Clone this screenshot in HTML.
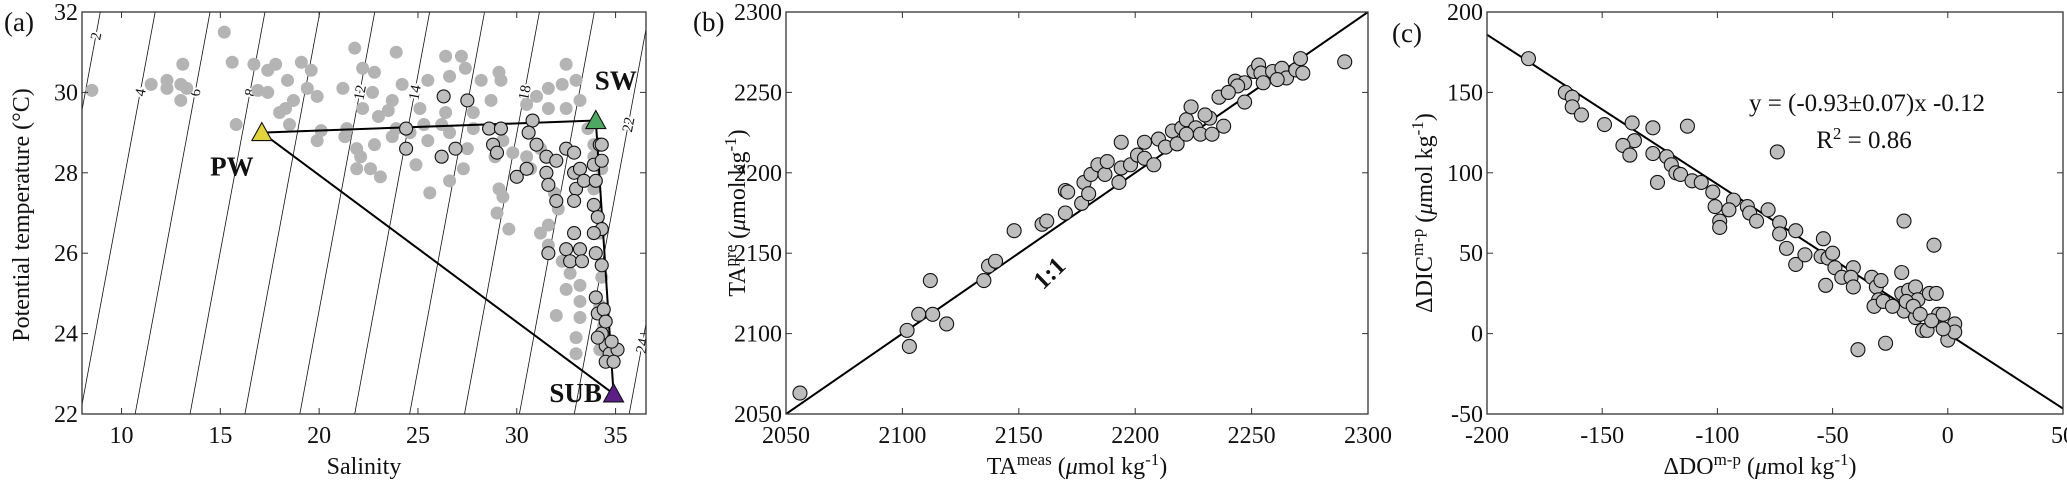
<!DOCTYPE html>
<html><head><meta charset="utf-8"><style>
html,body{margin:0;padding:0;background:#fff;}
svg, svg text{font-family:"Liberation Serif","DejaVu Serif","Times New Roman",serif;}
</style></head><body>
<svg id="chart" width="2067" height="492" viewBox="0 0 2067 492" xmlns="http://www.w3.org/2000/svg" font-family="Liberation Serif, DejaVu Serif, serif">
<defs>
<clipPath id="clipA"><rect x="82" y="12" width="564" height="402"/></clipPath>
<clipPath id="clipB"><rect x="786" y="12" width="582" height="402"/></clipPath>
<clipPath id="clipC"><rect x="1487" y="12" width="576" height="402"/></clipPath>
</defs>
<g id="ga"></g>
<g id="gb"></g>
<g id="gc"></g>
</svg>
<script>
// ---------- Panel A data ----------
const aGreyS=[8.5,11.5,12.3,12.3,13.1,13.0,13.3,13.0,15.2,15.6,15.8,16.7,17.4,17.8,16.9,17.4,18.4,19.1,19.6,19.4,19.9,18.7,18.3,18,18.5,20.1,19.9,21.2,21.8,22.2,22.8,22.7,22.2,23.0,21.4,21.3,21.9,22.1,21.9,22.6,23.1,22.8,23.9,24.2,23.7,23.5,23.9,23.7,24.6,25.1,25.3,25.5,25.6,24.9,25.5,26.4,27.2,27.4,26.6,26.4,26.2,26.6,26.6,27.3,27.5,27.8,27.8,28.2,29.1,29.2,28.7,29.3,29.1,29.3,29.0,29.6,28.9,29.8,30.5,31.0,31.6,32.5,32.3,33.0,31.6,32.5,33.2,31.2,30.5,30.7,31.9,32.1,31.6,31.2,31.6,32.3,32.7,32.5,33.2,33.2,32.0,33.2,33.0,33.0,33.9,34.3,34.2,34.3,34.2,34.4,34.2,33.9,33.9,33.6];
const aGreyT=[30.05,30.2,30.3,30.1,30.7,30.2,30.1,29.8,31.5,30.75,29.2,30.7,30.55,30.7,30.05,30,30.3,30.75,30.55,30.1,29.9,29.8,29.6,29.5,29.2,29.05,28.8,30.1,31.1,30.6,30.5,30,29.6,29.4,29.1,28.9,28.6,28.4,28.1,28.1,27.9,28.7,31.0,30.2,29.8,29.55,29.1,28.9,29,29.6,29.2,30.3,27.5,28.2,28.8,30.9,30.9,30.6,30.4,29.5,29.2,29,27.8,28.1,28.6,29.1,29.5,30.3,30.5,30.3,29.8,28.8,27.6,27.4,27,26.6,28.4,28.5,29.7,29.9,30.1,30.7,30.2,30.3,29.6,29.6,29.8,28.6,28.4,28.1,27.5,27.1,26.7,26.5,26.2,25.8,25.5,25.1,25.2,24.8,24.45,24.4,23.9,23.5,27.6,28.1,26.5,25.4,24.7,24.2,23.6,28.7,28.4,29.1];
const aEdgeS=[26.3,27.5,24.4,24.4,26.2,26.9,28.6,29.2,28.8,29.0,30.0,30.5,30.8,30.6,31.0,31.5,32.0,31.5,31.6,32.0,32.5,32.9,32.9,33.2,33.0,33.4,33.9,34.2,34.3,34.3,32.9,34.0,33.9,34.1,34.3,33.9,32.9,33.2,32.5,32.7,33.3,34.0,34.3,31.6,34.0,34.1,34.4,34.3,34.5,34.7,35.1,34.5,34.1,34.8,34.9,34.5];
const aEdgeT=[29.9,29.8,29.1,28.6,28.4,28.6,29.1,29.1,28.7,28.5,27.9,28.1,29.3,29,28.7,28.4,28.3,28.0,27.7,27.3,28.6,28.5,28.0,28.1,27.6,27.8,28.2,28.7,28.3,28.7,27.3,27.8,27.2,26.9,26.6,26.5,26.5,26.1,26.1,25.8,25.8,26.0,25.7,26.0,24.9,24.5,24.6,24.0,23.7,23.5,23.6,23.3,23.9,23.8,23.3,24.3];
const endNames=["PW","SW","SUB"];
const endS=[17.1,34.0,34.9];
const endT=[29.0,29.3,22.5];
const endColors=["#e2d43c","#4ea862","#5b1f86"];
const isoLevels=[0,2,4,6,8,10,12,14,16,18,20,22,24,26];
const isoLabelLevels=[2,4,6,8,12,14,18,22,24];
const isoLabelT=[31.4,30.0,30.0,30.0,30.0,30.0,30.0,29.2,23.7];
const aXTicks=[10,15,20,25,30,35];
const aYTicks=[22,24,26,28,30,32];

// ---------- Panel B data ----------
const bMeas=[2056,2102,2103,2107,2113,2112,2119,2135,2137,2140,2148,2160,2162,2170,2170,2171,2177,2178,2180,2181,2184,2187,2188,2193,2194,2194,2198,2201,2204,2204,2208,2210,2213,2216,2218,2220,2222,2224,2226,2228,2232,2233,2236,2238,2243,2247,2247,2251,2253,2254,2255,2259,2263,2265,2269,2271,2272,2290,2230,2222,2244,2261,2240];
const bPre=[2063,2102,2092,2112,2112,2133,2106,2133,2142,2145,2164,2168,2170,2175,2189,2188,2181,2194,2187,2199,2205,2199,2207,2194,2203,2219,2205,2211,2209,2219,2205,2221,2216,2226,2218,2228,2233,2241,2228,2224,2234,2224,2247,2229,2257,2244,2256,2263,2267,2262,2256,2263,2265,2259,2264,2271,2262,2269,2236,2224,2254,2258,2250];
const bTicks=[2050,2100,2150,2200,2250,2300];

// ---------- Panel C data ----------
const cDO=[-182,-166,-163,-163,-159,-149,-137,-136,-141,-138,-128,-128,-126,-113,-122,-120,-118,-116,-111,-107,-102,-101,-99,-99,-93,-95,-87,-86,-83,-78,-74,-73,-73,-70,-66,-66,-62,-54,-55,-52,-53,-50,-49,-46,-41,-42,-41,-39,-33,-31,-30,-32,-29,-28,-27,-20,-19,-20,-19,-17,-14,-13,-14,-11,-9,-8,-5,-6,-4,-7,-2,0,3,3,-2,-18,-15,-24,-12];
const cDIC=[171,150,147,141,136,130,131,120,117,111,128,112,94,129,110,105,100,99,95,94,88,79,70,66,83,77,79,75,70,77,113,69,62,53,64,43,49,59,48,47,30,50,41,35,41,35,29,-10,35,29,21,17,33,20,-6,38,70,25,14,27,29,21,10,2,2,25,25,55,12,8,12,-4,6,1,3,20,17,17,12];
const cSlope=-0.93, cIntercept=-0.12;
const cXTicks=[-200,-150,-100,-50,0,50];
const cYTicks=[-50,0,50,100,150,200];

const NS="http://www.w3.org/2000/svg";
const FF="Liberation Serif, DejaVu Serif, Times New Roman, serif";
function mk(parent,tag,attrs,text){const e=document.createElementNS(NS,tag);for(const k in attrs)e.setAttribute(k,attrs[k]);if(tag==='text')e.setAttribute('font-family',FF);if(text!==undefined)e.textContent=text;parent.appendChild(e);return e;}
function scale(d0,d1,r0,r1){return v=>r0+(v-d0)/(d1-d0)*(r1-r0);}

function axesFrame(g,L,T,R,B,xs,ys,xt,yt){
  const fr=mk(g,'rect',{x:L,y:T,width:R-L,height:B-T,fill:'none',stroke:'#333',"stroke-width":1.3});
  
  
  xt.forEach(v=>{const x=xs(v);
    mk(g,'line',{x1:x,x2:x,y1:B,y2:B-6,stroke:'#333'});
    mk(g,'line',{x1:x,x2:x,y1:T,y2:T+6,stroke:'#333'});
    const t=mk(g,'text',{x:x,y:B+29,"text-anchor":'middle',"font-size":24,fill:'#111'},String(v));
    
    
  });
  yt.forEach(v=>{const y=ys(v);
    mk(g,'line',{x1:L,x2:L+6,y1:y,y2:y,stroke:'#333'});
    mk(g,'line',{x1:R,x2:R-6,y1:y,y2:y,stroke:'#333'});
    const t=mk(g,'text',{x:L-4,y:y+8,"text-anchor":'end',"font-size":24,fill:'#111'},String(v));
    
    
  });
}

// ===== Panel A =====
(function(){
  const g=document.getElementById('ga');
  const L=82,R=646,T=12,B=414;
  const xs=scale(8,36.54,L,R), ys=scale(22,32,B,T);
  const clip=mk(g,'g',{"clip-path":'url(#clipA)'});
  const isoS=(sig,t)=>(sig+0.273*t-4.31)/0.72;
  isoLevels.forEach(s=>{
    const l=mk(clip,'line',{x1:xs(isoS(s,21)),y1:ys(21),x2:xs(isoS(s,33)),y2:ys(33),stroke:'#111',"stroke-width":0.8});
    
    
  });
  isoLabelLevels.forEach((s,i)=>{
    const x=xs(isoS(s,isoLabelT[i])), y=ys(isoLabelT[i]);
    const t=mk(clip,'text',{x:x,y:y+5,"text-anchor":'middle',"font-size":15,fill:'#111',stroke:'#fff',"stroke-width":4,"paint-order":'stroke',transform:`rotate(-79 ${x} ${y})`},String(s));
    
    
  });
  aGreyS.forEach((s,i)=>{
    const c=mk(clip,'circle',{cx:xs(s),cy:ys(aGreyT[i]),r:6.5,fill:'#b4b4b4'});
    
    
  });
  const tri=[[0,1],[1,2],[0,2]];
  tri.forEach(p=>{
    const l=mk(clip,'line',{x1:xs(endS[p[0]]),y1:ys(endT[p[0]]),x2:xs(endS[p[1]]),y2:ys(endT[p[1]]),stroke:'#000',"stroke-width":2});
    
    
  });
  aEdgeS.forEach((s,i)=>{
    const c=mk(clip,'circle',{cx:xs(s),cy:ys(aEdgeT[i]),r:6.5,fill:'#bdbdbd',stroke:'#111',"stroke-width":1.1});
    
    
  });
  const labOff=[[-30,34],[20,-40],[-38,-1]];
  endS.forEach((s,i)=>{
    const x=xs(s), y=ys(endT[i]);
    const p=mk(g,'polygon',{points:`${x-10},${y+8} ${x+10},${y+8} ${x},${y-10}`,fill:endColors[i],stroke:'#111',"stroke-width":1.1});
    
    
    const t=mk(g,'text',{x:x+labOff[i][0],y:y+labOff[i][1]+9,"text-anchor":'middle',"font-size":27,"font-weight":'bold',fill:'#111'},endNames[i]);
    
    
  });
  axesFrame(g,L,T,R,B,xs,ys,aXTicks,aYTicks);
  let t=mk(g,'text',{x:4,y:31,"font-size":27,fill:'#111'},'(a)');
  
  t=mk(g,'text',{x:364,y:474,"text-anchor":'middle',"font-size":24,fill:'#111'},'Salinity');
  
  t=mk(g,'text',{x:0,y:0,"text-anchor":'middle',"font-size":24,fill:'#111',transform:'translate(29,215) rotate(-90)'},'Potential temperature (°C)');
  
})();

// ===== Panel B =====
(function(){
  const g=document.getElementById('gb');
  const L=786,R=1368,T=12,B=414;
  const xs=scale(2050,2300,L,R), ys=scale(2050,2300,B,T);
  const clip=mk(g,'g',{"clip-path":'url(#clipB)'});
  const l=mk(clip,'line',{x1:xs(2050),y1:ys(2050),x2:xs(2300),y2:ys(2300),stroke:'#000',"stroke-width":2});
  
  bMeas.forEach((m,i)=>{
    const c=mk(clip,'circle',{cx:xs(m),cy:ys(bPre[i]),r:7,fill:'#bdbdbd',stroke:'#111',"stroke-width":1.1});
    
    
  });
  let t=mk(g,'text',{x:0,y:0,"text-anchor":'middle',"font-size":25,"font-weight":'bold',fill:'#111',transform:'translate(1055,279) rotate(-44)'},'1:1');
  
  axesFrame(g,L,T,R,B,xs,ys,bTicks,bTicks);
  t=mk(g,'text',{x:693,y:31,"font-size":27,fill:'#111'},'(b)');
  
  t=mk(g,'text',{x:1077,y:474,"text-anchor":'middle',"font-size":24,fill:'#111'});
  t.innerHTML='TA<tspan dy="-9" font-size="17">meas</tspan><tspan dy="9"> (</tspan><tspan font-style="italic">μ</tspan>mol kg<tspan dy="-9" font-size="17">-1</tspan><tspan dy="9">)</tspan>';
  
  t=mk(g,'text',{x:0,y:0,"text-anchor":'middle',"font-size":24,fill:'#111',transform:'translate(745,213) rotate(-90)'});
  t.innerHTML='TA<tspan dy="-9" font-size="17">pre</tspan><tspan dy="9"> (</tspan><tspan font-style="italic">μ</tspan>mol kg<tspan dy="-9" font-size="17">-1</tspan><tspan dy="9">)</tspan>';
  
})();

// ===== Panel C =====
(function(){
  const g=document.getElementById('gc');
  const L=1487,R=2063,T=12,B=414;
  const xs=scale(-200,50,L,R), ys=scale(-50,200,B,T);
  const clip=mk(g,'g',{"clip-path":'url(#clipC)'});
  const l=mk(clip,'line',{x1:xs(-200),y1:ys(cSlope*-200+cIntercept),x2:xs(50),y2:ys(cSlope*50+cIntercept),stroke:'#000',"stroke-width":2});
  
  cDO.forEach((d,i)=>{
    const c=mk(clip,'circle',{cx:xs(d),cy:ys(cDIC[i]),r:7,fill:'#bdbdbd',stroke:'#111',"stroke-width":1.1});
    
    
  });
  let t=mk(g,'text',{x:1867,y:111,"text-anchor":'middle',"font-size":25,fill:'#111'},'y = (-0.93±0.07)x -0.12');
  
  t=mk(g,'text',{x:1864,y:148,"text-anchor":'middle',"font-size":25,fill:'#111'});
  t.innerHTML='R<tspan dy="-9" font-size="17">2</tspan><tspan dy="9"> = 0.86</tspan>';
  
  axesFrame(g,L,T,R,B,xs,ys,cXTicks,cYTicks);
  t=mk(g,'text',{x:1392,y:42,"font-size":27,fill:'#111'},'(c)');
  
  t=mk(g,'text',{x:1760,y:474,"text-anchor":'middle',"font-size":24,fill:'#111'});
  t.innerHTML='ΔDO<tspan dy="-9" font-size="17">m-p</tspan><tspan dy="9"> (</tspan><tspan font-style="italic">μ</tspan>mol kg<tspan dy="-9" font-size="17">-1</tspan><tspan dy="9">)</tspan>';
  
  t=mk(g,'text',{x:0,y:0,"text-anchor":'middle',"font-size":24,fill:'#111',transform:'translate(1432,213) rotate(-90)'});
  t.innerHTML='ΔDIC<tspan dy="-9" font-size="17">m-p</tspan><tspan dy="9"> (</tspan><tspan font-style="italic">μ</tspan>mol kg<tspan dy="-9" font-size="17">-1</tspan><tspan dy="9">)</tspan>';
  
})();
</script>
</body></html>
